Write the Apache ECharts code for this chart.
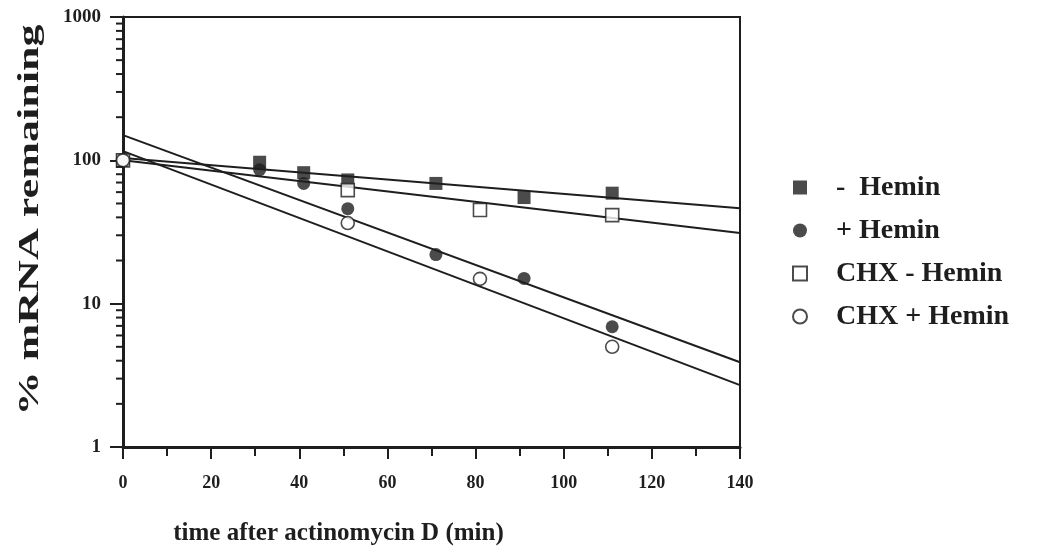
<!DOCTYPE html>
<html lang="en">
<head>
    <meta charset="UTF-8">
    <title>mRNA decay</title>
    <script src="https://cdn.jsdelivr.net/npm/echarts@6/dist/echarts.min.js"></script>
</head>
<body style="margin:0">

<div id="chart" style="width: 1049px;height: 555px"></div>

<script>
    // measured points (time in min, % remaining)
    var minusHemin = [[0, 100], [31, 97], [41, 82], [51, 73], [71, 69], [91, 55], [111, 59]];
    var plusHemin = [[0, 100], [31, 86], [41, 69], [51, 46], [71, 22], [91, 15], [111, 6.9]];
    var chxMinusHemin = [[0, 100], [51, 62], [81, 45], [111, 41.5]];
    var chxPlusHemin = [[0, 100], [51, 36.5], [81, 14.9], [111, 5.0]];

    // fitted lines, end points
    var fitMinusHemin = [[0, 104], [140, 46.4]];
    var fitPlusHemin = [[0, 150], [140, 3.9]];
    var fitChxMinus = [[0, 100], [140, 31.1]];
    var fitChxPlus = [[0, 116], [140, 2.7]];

    var xTicks = [0, 20, 40, 60, 80, 100, 120, 140];
    var yMinorTicks = [2, 3, 4, 5, 6, 7, 8, 9, 20, 30, 40, 50, 60, 70, 80, 90, 200, 300, 400, 500, 600, 700, 800, 900];

    var font = "'Liberation Serif', 'Times New Roman', serif";
    var ink = '#1e1e1e';

    var myChart = echarts.init(document.getElementById('chart'));

    function fitLine(data) {
        return {
            type: 'line', data: data, symbol: 'none', silent: true,
            lineStyle: {color: ink, width: 2}, z: 1
        };
    }

    function points(name, data, symbol, filled) {
        return {
            name: name, type: 'scatter', data: data, symbol: symbol, symbolSize: 13, z: filled ? 3 : 4,
            itemStyle: filled ? {color: ink} : {color: '#fff', borderColor: ink, borderWidth: 1.6}
        };
    }

    var option = {
        animation: false,
        backgroundColor: '#fff',
        textStyle: {fontFamily: font},
        grid: {left: 123, right: 309, top: 17, bottom: 108, show: true, borderColor: ink, borderWidth: 2},
        legend: {
            orient: 'vertical', left: 787, top: 167, itemWidth: 14, itemHeight: 14, itemGap: 12,
            data: ['-  Hemin', '+ Hemin', 'CHX - Hemin', 'CHX + Hemin'],
            textStyle: {fontFamily: font, fontWeight: 'bold', fontSize: 28, color: ink, lineHeight: 31, padding: [0, 0, 0, 24]}
        },
        // y title is stretched along its length like in the figure
        graphic: [{
            type: 'text', x: 30, y: 220, rotation: Math.PI / 2, scaleX: 1.47,
            style: {
                text: '% mRNA remaining', fill: ink, align: 'center', verticalAlign: 'middle',
                font: "bold 30px 'Liberation Serif', 'Times New Roman', serif"
            }
        }],
        xAxis: {
            type: 'value', min: 0, max: 140, interval: 20,
            name: 'time after actinomycin D (min)', nameLocation: 'middle', nameGap: 74,
            nameTextStyle: {fontFamily: font, fontWeight: 'bold', fontSize: 25, color: ink, padding: [0, 186, 0, 0]},
            axisLine: {lineStyle: {color: ink, width: 3}},
            axisTick: {length: 12, lineStyle: {color: ink, width: 2}},
            minorTick: {show: true, splitNumber: 2, length: 9, lineStyle: {color: ink, width: 2}},
            axisLabel: {margin: 27, fontSize: 18, fontWeight: 'bold', color: ink, fontFamily: font},
            splitLine: {show: false}
        },
        yAxis: {
            type: 'log', logBase: 10, min: 1, max: 1000,
            axisLine: {lineStyle: {color: ink, width: 3}},
            axisTick: {length: 13, lineStyle: {color: ink, width: 2}},
            axisLabel: {
                margin: 22, fontSize: 19, fontWeight: 'bold', color: ink, fontFamily: font,
                formatter: function (v) { return String(Math.round(v)); }
            },
            splitLine: {show: false}
        },
        series: [
            fitLine(fitMinusHemin),
            fitLine(fitPlusHemin),
            fitLine(fitChxMinus),
            fitLine(fitChxPlus),
            points('-  Hemin', minusHemin, 'rect', true),
            points('+ Hemin', plusHemin, 'circle', true),
            points('CHX - Hemin', chxMinusHemin, 'rect', false),
            points('CHX + Hemin', chxPlusHemin, 'circle', false),
            {
                // minor ticks of the log axis
                type: 'custom', silent: true, clip: false, z: 5,
                data: yMinorTicks.map(function (v) { return [0, v]; }),
                renderItem: function (params, api) {
                    var p = api.coord([0, api.value(1)]);
                    return {
                        type: 'line',
                        shape: {x1: p[0] - 7, y1: p[1], x2: p[0], y2: p[1]},
                        style: {stroke: ink, lineWidth: 2}
                    };
                }
            }
        ]
    };

    myChart.setOption(option);
</script>

</body>
</html>
